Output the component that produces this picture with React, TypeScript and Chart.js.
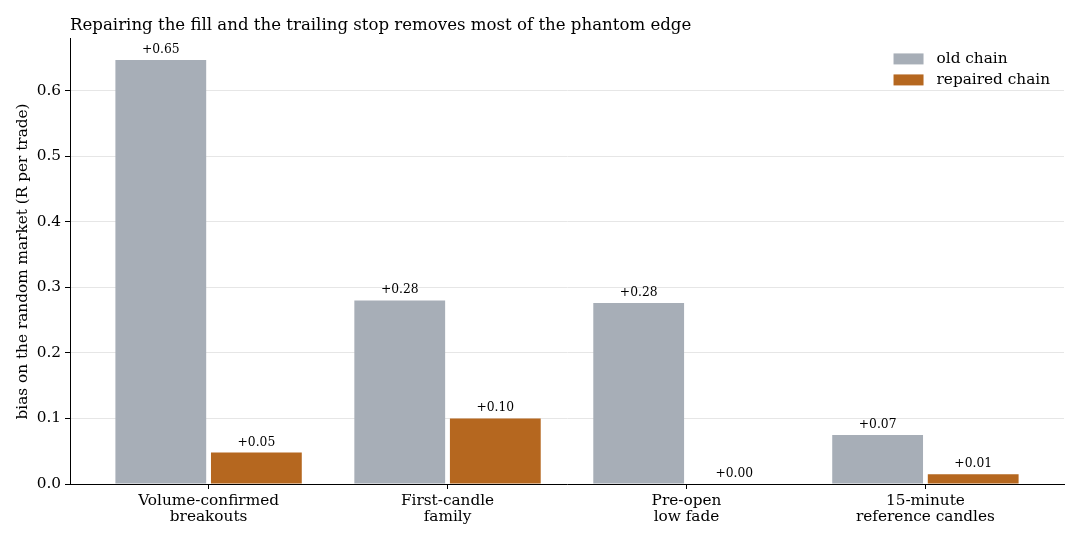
import { useEffect, useRef } from 'react'
import { Chart, registerables } from 'chart.js'

Chart.register(...registerables)

const FONT = "'DejaVu Serif', serif"

// values
const categories = [
  ['Volume-confirmed', 'breakouts'],
  ['First-candle', 'family'],
  ['Pre-open', 'low fade'],
  ['15-minute', 'reference candles'],
]
const oldChain = [0.647, 0.28, 0.276, 0.0749]
const repairedChain = [0.048, 0.1, 0.0, 0.0149]
const seriesNames = ['old chain', 'repaired chain']
const seriesColors = ['#a7aeb7', '#b5671f']
const yTicks = [0, 0.1, 0.2, 0.3, 0.4, 0.5, 0.6]

// "+0.65" style labels above each bar
const valueLabels = {
  id: 'valueLabels',
  afterDatasetsDraw(chart: Chart) {
    const ctx = chart.ctx
    ctx.save()
    ctx.font = `12.3px ${FONT}`
    ctx.fillStyle = '#000'
    ctx.textAlign = 'center'
    ctx.textBaseline = 'alphabetic'
    chart.data.datasets.forEach((ds, di) => {
      const meta = chart.getDatasetMeta(di)
      meta.data.forEach((el: any, i) => {
        const v = (ds.data[i] as any).y as number
        ctx.fillText('+' + v.toFixed(2), el.x, el.y - 7)
      })
    })
    ctx.restore()
  },
}

// matplotlib-like legend sitting inside the upper right of the plot
const innerLegend = {
  id: 'innerLegend',
  afterDraw(chart: Chart) {
    const { ctx, chartArea } = chart
    ctx.save()
    ctx.font = `15.3px ${FONT}`
    const textW = Math.max(...seriesNames.map((n) => ctx.measureText(n).width))
    const textX = chartArea.right - 14 - textW
    const boxX = textX - 13 - 30
    seriesNames.forEach((name, i) => {
      const cy = chartArea.top + 20 + i * 21
      ctx.fillStyle = seriesColors[i]
      ctx.fillRect(boxX, cy - 5.5, 30, 11)
      ctx.fillStyle = '#000'
      ctx.textAlign = 'left'
      ctx.textBaseline = 'middle'
      ctx.fillText(name, textX, cy)
    })
    ctx.restore()
  },
}

export default function App() {
  const canvasRef = useRef<HTMLCanvasElement>(null)

  useEffect(() => {
    document.body.style.margin = '0'
    if (!canvasRef.current) return
    Chart.defaults.font.family = FONT

    const chart = new Chart(canvasRef.current, {
      type: 'bar',
      data: {
        datasets: [oldChain, repairedChain].map((vals, di) => ({
          label: seriesNames[di],
          data: vals.map((y, i) => ({ x: i, y })),
          backgroundColor: seriesColors[di],
          borderWidth: 0,
          categoryPercentage: 0.8,
          barPercentage: 0.95,
        })),
      },
      options: {
        animation: false,
        responsive: false,
        layout: { padding: { left: 8, right: 16, top: 0, bottom: 0 } },
        plugins: {
          legend: { display: false },
          tooltip: { enabled: false },
          title: {
            display: true,
            text: 'Repairing the fill and the trailing stop removes most of the phantom edge',
            align: 'start',
            fullSize: false,
            color: '#000',
            font: { size: 16.6, weight: 'normal', family: FONT },
            padding: { top: 16, bottom: 3 },
          },
        },
        scales: {
          x: {
            type: 'linear',
            offset: false,
            min: -0.58,
            max: 3.58,
            afterBuildTicks: (axis: any) => {
              axis.ticks = categories.map((_, i) => ({ value: i }))
            },
            afterFit: (axis: any) => { axis.height = 56 },
            ticks: {
              color: '#000',
              font: { size: 15.3, family: FONT, lineHeight: 1.05 },
              padding: 3.5,
              maxRotation: 0,
              autoSkip: false,
              callback: (v: any) => categories[v as number],
            },
            grid: { offset: false, drawOnChartArea: false, tickLength: 5, tickColor: '#000' },
            border: { color: '#000', width: 1 },
          },
          y: {
            min: 0,
            max: 0.679,
            afterBuildTicks: (axis: any) => {
              axis.ticks = yTicks.map((value) => ({ value }))
            },
            afterFit: (axis: any) => { axis.width = 62 },
            ticks: {
              color: '#000',
              font: { size: 15.3, family: FONT },
              padding: 4,
              callback: (v: any) => (v as number).toFixed(1),
            },
            grid: { color: '#e6e6e6', tickLength: 5, tickColor: '#000' },
            border: { color: '#000', width: 1 },
            title: {
              display: true,
              text: 'bias on the random market (R per trade)',
              color: '#000',
              font: { size: 15.3, family: FONT },
              padding: { top: 6, bottom: 0 },
            },
          },
        },
      },
      plugins: [valueLabels, innerLegend],
    })

    return () => { chart.destroy() }
  }, [])

  return (
    <div style={{ position: 'relative', width: 1080, height: 540 }}>
      <canvas ref={canvasRef} width={1080} height={540} />
    </div>
  )
}
